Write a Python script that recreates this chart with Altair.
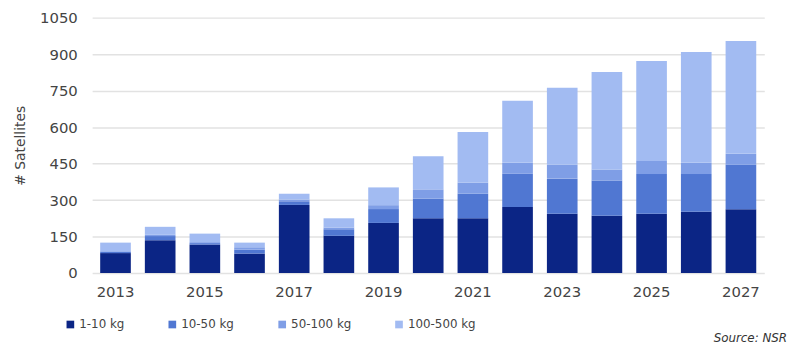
import altair as alt
import pandas as pd

years = [str(y) for y in range(2013, 2028)]
kg_1_10 = [82, 135, 117, 80, 280, 153, 206, 225, 225, 271, 244, 235, 244, 252, 262]
kg_10_50 = [5, 17, 6, 16, 15, 27, 57, 81, 101, 137, 144, 145, 163, 155, 183]
kg_50_100 = [3, 5, 4, 10, 7, 7, 16, 38, 46, 45, 57, 46, 54, 46, 45]
kg_100_500 = [35, 33, 35, 19, 24, 38, 73, 136, 208, 255, 317, 401, 411, 456, 464]

series = ["1-10 kg", "10-50 kg", "50-100 kg", "100-500 kg"]
colors = ["#0b2585", "#5077d2", "#7f9ee6", "#a2bbf2"]
year_labels = [y for y in years if int(y) % 2 == 1]

rows = []
for name, vals in zip(series, [kg_1_10, kg_10_50, kg_50_100, kg_100_500]):
    for i, (yr, v) in enumerate(zip(years, vals)):
        rows.append({"year": yr, "series": name, "value": v, "order": series.index(name)})
df = pd.DataFrame(rows)

FONT = "DejaVu Sans"

chart = alt.Chart(df).mark_bar().encode(
    x=alt.X("year:N", sort=years,
            scale=alt.Scale(paddingInner=0.314, paddingOuter=0.18),
            axis=alt.Axis(title=None, values=year_labels, labelAngle=0, ticks=False,
                          domain=False, labelPadding=12, labelFontSize=15,
                          labelColor="#444", labelFont=FONT)),
    y=alt.Y("value:Q", stack="zero",
            scale=alt.Scale(domain=[0, 1050]),
            axis=alt.Axis(title="# Satellites", values=list(range(0, 1051, 150)), format="d",
                          ticks=False, domain=False, labelPadding=15, labelFontSize=15,
                          labelColor="#444", labelFont=FONT, titleFont=FONT,
                          titleFontSize=14, titleFontWeight="normal", titleColor="#444",
                          titlePadding=12, gridColor="#e2e2e2", gridWidth=1.5)),
    color=alt.Color("series:N", sort=series,
                    scale=alt.Scale(domain=series, range=colors),
                    legend=alt.Legend(title=None, orient="none", legendX=-28, legendY=304,
                                      direction="horizontal", symbolType="square",
                                      symbolSize=60, labelFontSize=12, labelFont=FONT,
                                      labelColor="#444", columnPadding=42,
                                      symbolStrokeWidth=0, labelOffset=3)),
    order=alt.Order("order:Q", sort="ascending"),
).properties(
    width=679, height=258,
    padding={"left": 5, "top": 1, "right": 5, "bottom": 2},
    title=alt.TitleParams("Source: NSR", orient="bottom", anchor="end", fontStyle="italic",
                          fontSize=12, fontWeight="normal", color="#333", font=FONT,
                          offset=3, dx=23),
).configure_view(stroke=None)

chart.save("out.html", embed_options={"renderer": "svg", "actions": False})
